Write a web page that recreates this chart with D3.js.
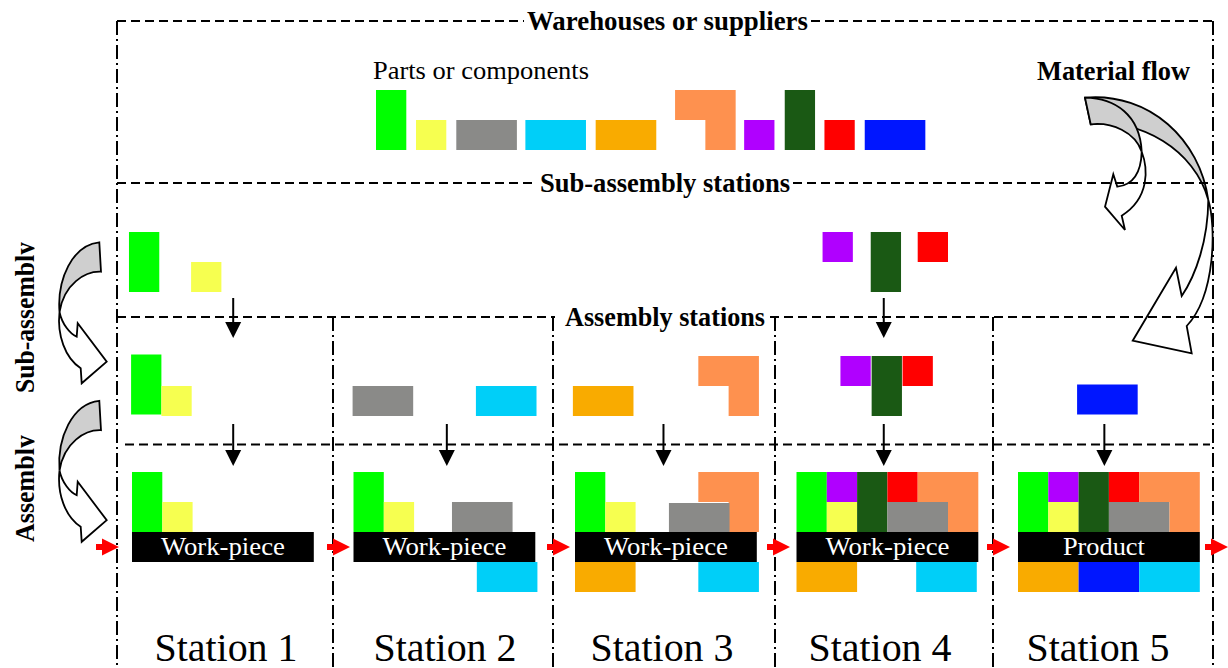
<!DOCTYPE html>
<html><head><meta charset="utf-8">
<script src="https://cdn.jsdelivr.net/npm/d3@7/dist/d3.min.js"></script>
<style>body{margin:0;background:#fff}svg{display:block}</style>
</head><body>
<svg id="c" width="1228" height="668"></svg>
<script>
// ---------------- data ----------------
const partColors = {green:"#00ff00", yellow:"#f6ff50", gray:"#8a8a88", cyan:"#00cff8", orange:"#f9ab00",
  coral:"#fe914f", purple:"#b000ff", dkgreen:"#1a5914", red:"#ff0000", blue:"#0016ff"};
const partSize = {green:[1,2], yellow:[1,1], gray:[2,1], cyan:[2,1], orange:[2,1], coral:[2,2],
  purple:[1,1], dkgreen:[1,2], red:[1,1], blue:[2,1]};
// warehouse row: part, column (cells), top row (cells)
const warehouseParts = ["green","yellow","gray","cyan","orange","coral","purple","dkgreen","red","blue"];
const warehouseCols  = [0, 1.32, 2.65, 4.93, 7.25, 9.87, 12.15, 13.49, 14.8, 16.13];
const warehouseRows  = [0, 1, 1, 1, 1, 0, 1, 0, 1, 1];
// stations
const stationNames = ["Station 1","Station 2","Station 3","Station 4","Station 5"];
const stationLabelX = [226, 445, 662, 880, 1098];
const barLabels = ["Work-piece","Work-piece","Work-piece","Work-piece","Product"];
const subStationParts = [
  [["green",-0.1,0],["yellow",1.95,1]], [], [],
  [["purple",0.86,0],["dkgreen",2.45,0],["red",4.0,0]], []
];
const stationInputs = [
  [["green",-0.03,-0.05],["yellow",0.97,1]],
  [["gray",-0.03,1],["cyan",4.04,1]],
  [["orange",-0.07,1],["coral",4.07,0]],
  [["purple",1.45,0],["dkgreen",2.48,0],["red",3.5,0]],
  [["blue",1.95,0.95]]
];
const stationAssembled = [
  [["green",0,0],["yellow",1,1]],
  [["green",0,0],["yellow",1,1],["gray",3.25,1],["cyan",4.07,3]],
  [["green",0,0],["yellow",1,1],["coral",4.07,0],["gray",3.1,1.03],["orange",0,3],["cyan",4.07,3]],
  [["green",0,0],["purple",1,0],["yellow",1,1],["dkgreen",2,0],["red",3,0],["gray",3,1],["coral",4,0],["orange",0,3],["cyan",3.95,3]],
  [["green",0,0],["purple",1,0],["yellow",1,1],["dkgreen",2,0],["red",3,0],["gray",3,1],["coral",4,0],["orange",0,3],["blue",2,3],["cyan",4,3]]
];
const subArrowStations = [0, 3];
const feedArrowCols = [3.34, 3.08, 2.92, 2.88, 2.85];
const flowArrowX = [96, 327, 547, 767, 987, 1205];
const dividerX = [117, 333, 553, 775, 993, 1213];
const bandLines = [
  {y:21,  segs:[[117,524],[811,1213]], label:"Warehouses or suppliers", lx:527, len:281},
  {y:183, segs:[[117,537],[793,1213]], label:"Sub-assembly stations", lx:540, len:250},
  {y:317, segs:[[117,555],[770,1213]], label:"Assembly stations", lx:565, len:200},
  {y:444.5, segs:[[125,1210]], label:null}
];

// ---------------- drawing ----------------
const svg = d3.select("#c");
const serif = "'Liberation Serif','Times New Roman',serif";
const cellW = 30.3, cellH = 30;
const stationX = d3.scaleLinear().domain([0,4]).range([132, 1018]);
const colS = d3.scaleLinear().domain([0,1]).range([0, cellW]);
const rowS = d3.scaleLinear().domain([0,1]).range([0, cellH]);
const whX = d3.scaleLinear().domain([0,1]).range([376, 376+cellW]);
const whY = d3.scaleLinear().domain([0,1]).range([90, 120]);
const subY = d3.scaleLinear().domain([0,1]).range([232, 262]);
const inY = d3.scaleLinear().domain([0,1]).range([356, 386]);
const asY = d3.scaleLinear().domain([0,1]).range([472, 502]);

function partPath(name, x, y) {
  const [w,h] = partSize[name];
  const W = colS(w), H = rowS(h), C = colS(1), R = rowS(1);
  if (name === "coral") {
    return `M${x},${y}H${x+W}V${y+H}H${x+C}V${y+R}H${x}Z`;
  }
  return `M${x},${y}h${W}v${H}h${-W}Z`;
}
function drawParts(g, list, xf, yf) {
  g.selectAll(null).data(list).join("path")
    .attr("d", d => partPath(d[0], xf(d), yf(d)))
    .attr("fill", d => partColors[d[0]]);
}

const gLines = svg.append("g");
const gParts = svg.append("g");
const gArrows = svg.append("g");
const gTop = svg.append("g");

// vertical dividers (dash-dot)
gLines.selectAll(null).data(dividerX).join("line")
  .attr("x1", d => d).attr("x2", d => d)
  .attr("y1", (d,i) => (i===0 || i===dividerX.length-1) ? 21 : 317)
  .attr("y2", 668)
  .attr("stroke","#000").attr("stroke-width",2).attr("stroke-dasharray","14,4,2,4");

// warehouse parts
drawParts(gParts, warehouseParts.map((p,i)=>[p, warehouseCols[i], warehouseRows[i]]),
  d => whX(d[1]), d => whY(d[2]));
// sub-assembly stations, station inputs, assembled work-pieces
subStationParts.forEach((list, s) => drawParts(gParts, list, d => stationX(s)+colS(d[1]), d => subY(d[2])));
stationInputs.forEach((list, s) => drawParts(gParts, list, d => stationX(s)+colS(d[1]), d => inY(d[2])));
stationAssembled.forEach((list, s) => drawParts(gParts, list, d => stationX(s)+colS(d[1]), d => asY(d[2])));

// black bars
gParts.selectAll(null).data(barLabels).join("rect")
  .attr("x", (d,i) => stationX(i)).attr("y", asY(2))
  .attr("width", colS(6)).attr("height", rowS(1)).attr("fill","#000");
gParts.selectAll(null).data(barLabels).join("text")
  .attr("x", (d,i) => stationX(i) + colS(3) + (d==="Product"?-5:0)).attr("y", asY(2)+23)
  .attr("text-anchor","middle").attr("fill","#fff")
  .attr("font-family",serif).attr("font-size",26)
  .attr("textLength", d => d==="Product" ? 82 : 124).attr("lengthAdjust","spacingAndGlyphs")
  .text(d => d);

// feed arrows (black, downward)
function downArrow(g, x, y1, y2) {
  g.append("line").attr("x1",x).attr("x2",x).attr("y1",y1).attr("y2",y2-10)
    .attr("stroke","#000").attr("stroke-width",2);
  g.append("path").attr("d",`M${x-8},${y2-16}L${x+8},${y2-16}L${x},${y2}Z`).attr("fill","#000");
}
subArrowStations.forEach(s => downArrow(gArrows, stationX(s)+colS(feedArrowCols[s]), 298, 338));
feedArrowCols.forEach((c,s) => downArrow(gArrows, stationX(s)+colS(c), 424, 466));

// red flow arrows
gArrows.selectAll(null).data(flowArrowX).join("path")
  .attr("d", x => `M${x},544H${x+6}V538.5L${x+23},547L${x+6},555.5V550H${x}Z`)
  .attr("fill","#ff0000");

// curved arrows on the left (sub-assembly / assembly)
const leftArrowTops = [0, 158.5];
leftArrowTops.forEach(dy => {
  const g = gArrows.append("g").attr("transform",`translate(0,${dy})`);
  g.append("path")
    .attr("d","M99.3,242.3L101,271.7C85,271 64,284 59.5,312C57,280 72,245 99.3,242.3Z")
    .attr("fill","#cfcfcf").attr("stroke","#000").attr("stroke-width",1.8);
  g.append("path")
    .attr("d","M59.5,312C57,335 65,358 80.7,368.3L81.7,383.3L106.7,361.7L77.7,323.3L76.7,336.7C70,334 62,324 59.5,312Z")
    .attr("fill","#fff").attr("stroke","#000").attr("stroke-width",1.8);
});

// material flow arrows on the right
const gR = gArrows.append("g");
gR.append("path")
  .attr("d","M1085,97.7C1150,92 1200,140 1208.3,200C1195,150 1140,118 1090.7,124.3Z")
  .attr("fill","#cfcfcf").attr("stroke","#000").attr("stroke-width",1.8);
gR.append("path")
  .attr("d","M1208.3,200C1216,225 1216,295 1186.7,326L1191.7,353.3L1132.7,340.7L1176,267.7L1181.7,296C1196,275 1208,240 1208.3,200Z")
  .attr("fill","#fff").attr("stroke","#000").attr("stroke-width",1.8);
gR.append("path")
  .attr("d","M1085,97.7L1090.7,124.3C1112,122 1135,132 1141.7,151.7C1140,115 1115,98 1085,97.7Z")
  .attr("fill","#cfcfcf").attr("stroke","#000").attr("stroke-width",1.8);
gR.append("path")
  .attr("d","M1141.7,151.7C1148,168 1150,198 1121.7,215.7L1125,230L1105,206.7L1113.3,174.3L1117.3,186.7C1132,185 1141,175 1141.7,151.7Z")
  .attr("fill","#fff").attr("stroke","#000").attr("stroke-width",1.8);

// horizontal dashed band lines with titles
bandLines.forEach(b => {
  gTop.selectAll(null).data(b.segs).join("line")
    .attr("x1", d => d[0]).attr("x2", d => d[1]).attr("y1", b.y).attr("y2", b.y)
    .attr("stroke","#000").attr("stroke-width",2).attr("stroke-dasharray","9,5");
  if (b.label) {
    gTop.append("text").attr("x", b.lx).attr("y", b.y + 8.5)
      .attr("font-family",serif).attr("font-weight","bold")
      .attr("font-size",27).attr("textLength", b.len).attr("lengthAdjust","spacingAndGlyphs")
      .text(b.label);
  }
});

// other texts
gTop.append("text").attr("x",373).attr("y",79).attr("font-family",serif).attr("font-size",26)
  .attr("textLength",216).attr("lengthAdjust","spacingAndGlyphs").text("Parts or components");
gTop.append("text").attr("x",1037).attr("y",80).attr("font-family",serif).attr("font-weight","bold").attr("font-size",27)
  .attr("textLength",153).attr("lengthAdjust","spacingAndGlyphs").text("Material flow");
gTop.selectAll(null).data(stationNames).join("text")
  .attr("x", (d,i) => stationLabelX[i]).attr("y", 661).attr("text-anchor","middle")
  .attr("font-family",serif).attr("font-size",39)
  .attr("textLength",143).attr("lengthAdjust","spacingAndGlyphs").text(d => d);

// rotated side labels (clipped at right like the original)
svg.append("defs").append("clipPath").attr("id","sideClip")
  .append("rect").attr("x",0).attr("y",0).attr("width",34.5).attr("height",668);
const sideLabels = [{t:"Sub-assembly", cy:317.5, len:151}, {t:"Assembly", cy:488.5, len:107}];
gTop.append("g").attr("clip-path","url(#sideClip)").selectAll(null).data(sideLabels).join("text")
  .attr("transform", d => `translate(33.5,${d.cy}) rotate(-90)`)
  .attr("text-anchor","middle").attr("font-family",serif).attr("font-weight","bold").attr("font-size",27)
  .attr("textLength", d => d.len).attr("lengthAdjust","spacingAndGlyphs").text(d => d.t);
</script>
</body></html>
